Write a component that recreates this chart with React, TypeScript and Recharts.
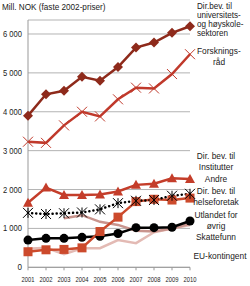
import React from 'react'
import { LineChart, Line, XAxis, YAxis, CartesianGrid } from 'recharts'

const years = ['2001', '2002', '2003', '2004', '2005', '2006', '2007', '2008', '2009', '2010']
const universitet = [3900, 4450, 4540, 4900, 4800, 5150, 5650, 5780, 6030, 6200]
const forskningsrad = [3230, 3200, 3650, 4000, 3880, 4320, 4620, 4600, 4970, 5480]
const institutter = [1660, 2050, 1860, 1860, 1870, 1950, 2120, 2150, 2290, 2270]
const helseforetak = [1400, 1370, 1390, 1410, 1490, 1650, 1710, 1730, 1840, 1890]
const utlandet = [400, 450, 460, 500, 920, 1290, 1690, 1750, 1730, 1780]
const skattefunn = [700, 745, 745, 770, 800, 870, 1020, 1020, 1030, 1190]
const ovrig = [null, null, 1260, 1340, 1170, 1090, 940, 920, 1000, 1120]
const euKontingent = [480, 500, 340, 490, 490, 700, 620, 900, 1000, 1090]
const yTicks = [0, 1000, 2000, 3000, 4000, 5000, 6000]

const data = years.map((year, i) => ({
  year,
  universitet: universitet[i],
  forskningsrad: forskningsrad[i],
  institutter: institutter[i],
  helseforetak: helseforetak[i],
  utlandet: utlandet[i],
  skattefunn: skattefunn[i],
  ovrig: ovrig[i],
  euKontingent: euKontingent[i]
}))

const FONT = '"Liberation Sans", Arial, sans-serif'

const fmt = (v: number) => (v >= 1000 ? `${Math.floor(v / 1000)} ${String(v % 1000).padStart(3, '0')}` : String(v))

const Diamond = ({ cx, cy, fill }: any) => (
  <polygon points={`${cx},${cy - 5} ${cx + 5},${cy} ${cx},${cy + 5} ${cx - 5},${cy}`} fill={fill} />
)

const Cross = ({ cx, cy, stroke }: any) => (
  <path d={`M${cx - 5},${cy - 5}L${cx + 5},${cy + 5}M${cx - 5},${cy + 5}L${cx + 5},${cy - 5}`} stroke={stroke} strokeWidth={1} fill="none" />
)

const Triangle = ({ cx, cy, fill }: any) => (
  <polygon points={`${cx},${cy - 5} ${cx + 5},${cy + 4} ${cx - 5},${cy + 4}`} fill={fill} />
)

const Square = ({ cx, cy, fill }: any) => (
  <rect x={cx - 4.5} y={cy - 4.5} width={9} height={9} fill={fill} />
)

const Star = ({ cx, cy }: any) => (
  <path
    d={`M${cx - 5},${cy - 5}L${cx + 5},${cy + 5}M${cx - 5},${cy + 5}L${cx + 5},${cy - 5}M${cx},${cy - 5}L${cx},${cy + 5}`}
    stroke="#000"
    strokeWidth={1}
    fill="none"
  />
)

const XTick = ({ x, y, payload }: any) => (
  <text x={x} y={y + 7} textAnchor="middle" fontSize={7.5} fontFamily={FONT} fill="#222" textLength={13} lengthAdjust="spacingAndGlyphs">
    {payload.value}
  </text>
)

const YTick = ({ x, y, payload }: any) => {
  const label = fmt(payload.value)
  const w = label.length > 1 ? 19 : 4.5
  return (
    <text x={x} y={y + 3} textAnchor="end" fontSize={9} fontFamily={FONT} fill="#222" textLength={w} lengthAdjust="spacingAndGlyphs">
      {label}
    </text>
  )
}

const labelStyle: React.CSSProperties = {
  position: 'absolute',
  fontFamily: FONT,
  fontSize: 9.5,
  lineHeight: '11px',
  color: '#1a1a1a',
  whiteSpace: 'nowrap'
}

const rightLabels = [
  { text: 'Dir. bev. til', y: 155 },
  { text: 'Institutter', y: 166.5 },
  { text: 'Andre', y: 178 },
  { text: 'Dir. bev. til', y: 190 },
  { text: 'helseforetak', y: 201 },
  { text: 'Utlandet for', y: 214 },
  { text: 'øvrig', y: 225.5 },
  { text: 'Skattefunn', y: 236.5 },
  { text: 'EU-kontingent', y: 255, x: 220 }
]

export default function App() {
  return (
    <div style={{ position: 'absolute', left: 0, top: 0, width: 250, height: 286, background: '#fff' }}>
      <LineChart width={250} height={286} data={data} margin={{ top: 20, right: 60, bottom: 0, left: 0 }}>
        <CartesianGrid vertical={false} stroke="#b3b3b3" />
        <XAxis
          dataKey="year"
          interval={0}
          height={18.7}
          axisLine={{ stroke: '#999' }}
          tickLine={{ stroke: '#999' }}
          tickSize={3}
          tickMargin={5}
          tick={<XTick />}
        />
        <YAxis
          width={28}
          domain={[0, 6360]}
          ticks={yTicks}
          axisLine={{ stroke: '#999' }}
          tickLine={false}
          tickSize={4}
          tickMargin={2}
          tick={<YTick />}
        />
        <Line dataKey="euKontingent" stroke="#e3bab4" strokeWidth={2.5} dot={false} isAnimationActive={false} />
        <Line dataKey="ovrig" stroke="#c9948d" strokeWidth={2.5} dot={false} isAnimationActive={false} />
        <Line
          dataKey="skattefunn"
          stroke="#000"
          strokeWidth={2.5}
          dot={{ r: 4.5, fill: '#000', stroke: 'none' }}
          isAnimationActive={false}
        />
        <Line
          dataKey="utlandet"
          stroke="#cc4a2c"
          strokeWidth={2.5}
          dot={(p: any) => <Square key={p.index} cx={p.cx} cy={p.cy} fill="#cc4a2c" />}
          isAnimationActive={false}
        />
        <Line
          dataKey="helseforetak"
          stroke="#000"
          strokeWidth={2.5}
          strokeDasharray="0.1 4"
          strokeLinecap="round"
          dot={(p: any) => <Star key={p.index} cx={p.cx} cy={p.cy} />}
          isAnimationActive={false}
        />
        <Line
          dataKey="institutter"
          stroke="#c43d2a"
          strokeWidth={2.5}
          dot={(p: any) => <Triangle key={p.index} cx={p.cx} cy={p.cy} fill="#c43d2a" />}
          isAnimationActive={false}
        />
        <Line
          dataKey="forskningsrad"
          stroke="#c0392b"
          strokeWidth={2.5}
          dot={(p: any) => <Cross key={p.index} cx={p.cx} cy={p.cy} stroke="#c0392b" />}
          isAnimationActive={false}
        />
        <Line
          dataKey="universitet"
          stroke="#8e2a1b"
          strokeWidth={2.5}
          dot={(p: any) => <Diamond key={p.index} cx={p.cx} cy={p.cy} fill="#8e2a1b" />}
          isAnimationActive={false}
        />
      </LineChart>
      <div style={{ ...labelStyle, left: 2, top: 1, transform: 'scaleX(0.86)', transformOrigin: 'left' }}>
        Mill. NOK (faste 2002-priser)
      </div>
      <div
        style={{ ...labelStyle, left: 197, top: 2, fontSize: 9, lineHeight: '9px', transform: 'scaleX(0.9)', transformOrigin: 'left' }}
      >
        Dir.bev. til
        <br />
        universitets-
        <br />
        og høyskole-
        <br />
        sektoren
      </div>
      <div style={{ ...labelStyle, left: 197, top: 45, transform: 'scaleX(0.88)', transformOrigin: 'left' }}>Forsknings-</div>
      <div style={{ ...labelStyle, left: 213, top: 56, transform: 'scaleX(0.88)', transformOrigin: 'left' }}>råd</div>
      {rightLabels.map((l, i) => (
        <div key={i} style={{ ...labelStyle, left: l.x ?? 216, top: l.y - 5.5, transform: 'translateX(-50%) scaleX(0.88)' }}>
          {l.text}
        </div>
      ))}
    </div>
  )
}
